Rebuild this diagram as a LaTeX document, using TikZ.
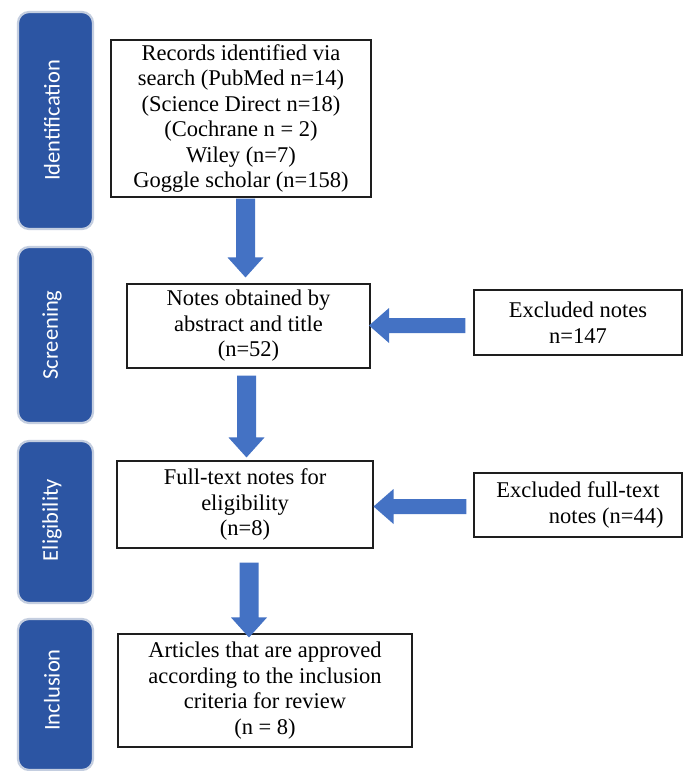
\documentclass[tikz,border=0pt]{standalone}
\usepackage{fontspec}
\setmainfont{Liberation Serif}
\newfontfamily\tabfont{Carlito}
\usetikzlibrary{calc}
\definecolor{tabblue}{RGB}{44,85,163}
\definecolor{tabedge}{RGB}{196,206,224}
\definecolor{arrowblue}{RGB}{68,114,196}
\definecolor{boxedge}{RGB}{30,30,30}
\tikzset{
  tabbox/.style={draw=tabedge, line width=2.2pt, fill=tabblue, rounded corners=11pt,
    minimum width=75pt, inner sep=0pt},
  tablabel/.style={rotate=90, text=white, font=\tabfont\fontsize{22.5}{26}\selectfont, inner sep=0pt},
  flowbox/.style={draw=boxedge, line width=1.1pt, fill=white, align=center, inner sep=0pt,
    font=\fontsize{22.5}{25.5}\selectfont},
}
\newcommand{\blockdown}[2]{%
  \fill[arrowblue] let \p1=#1, \p2=#2 in
    (\x1-9.5pt,\y1) -- (\x1+9.5pt,\y1) -- (\x1+9.5pt,\y2+20pt) -- (\x1+18pt,\y2+20pt)
    -- (\x1,\y2) -- (\x1-18pt,\y2+20pt) -- (\x1-9.5pt,\y2+20pt) -- cycle;}
\newcommand{\blockleft}[2]{%
  \fill[arrowblue] let \p1=#1, \p2=#2 in
    (\x1,\y1+7.5pt) -- (\x2+20pt,\y1+7.5pt) -- (\x2+20pt,\y1+17.5pt) -- (\x2,\y1)
    -- (\x2+20pt,\y1-17.5pt) -- (\x2+20pt,\y1-7.5pt) -- (\x1,\y1-7.5pt) -- cycle;}
\begin{document}
\begin{tikzpicture}
\useasboundingbox[fill=white] (0,0) rectangle (684pt,-771pt);
% side tabs
\node[tabbox, minimum height=217pt] (t1) at (55.5pt,-120.5pt) {};
\node[tabbox, minimum height=176pt] (t2) at (55.5pt,-335pt) {};
\node[tabbox, minimum height=162pt] (t3) at (55.5pt,-522pt) {};
\node[tabbox, minimum height=151pt] (t4) at (55.5pt,-694.5pt) {};
\node[tablabel] (l1) at (52pt,-120.5pt) {Identification};
\node[tablabel] (l2) at (52pt,-335pt) {Screening};
\node[tablabel] (l3) at (52pt,-520pt) {Eligibility};
\node[tablabel] (l4) at (52pt,-690pt) {Inclusion};
% boxes
\node[flowbox, minimum width=260pt, minimum height=157pt] (id) at (241pt,-118.5pt)
  {Records identified via\\search (PubMed n=14)\\(Science Direct n=18)\\(Cochrane n = 2)\\Wiley (n=7)\\Goggle scholar (n=158)};
\node[flowbox, minimum width=243pt, minimum height=84pt] (scr) at (248.5pt,-326pt)
  {Notes obtained by\\abstract and title\\(n=52)};
\node[flowbox, minimum width=256pt, minimum height=87pt] (elig) at (245pt,-504.5pt)
  {Full-text notes for\\eligibility\\(n=8)};
\node[flowbox, minimum width=294pt, minimum height=113pt] (art) at (265pt,-690.5pt)
  {Articles that are approved\\according to the inclusion\\criteria for review\\(n = 8)};
\node[flowbox, minimum width=208pt, minimum height=65pt] (exc1) at (578pt,-322.5pt)
  {Excluded notes\\n=147};
\node[flowbox, minimum width=208pt, minimum height=64pt, align=right] (exc2) at (578pt,-505pt)
  {Excluded full-text\\notes (n=44)\hspace*{-4pt}};
% arrows
\blockdown{($(id.south)+(4.5pt,-1pt)$)}{($(scr.north)+(0,6pt)$)}
\blockdown{($(scr.south)+(-2pt,-7pt)$)}{($(elig.north)+(0,3pt)$)}
\blockdown{($(elig.south)+(4pt,-14pt)$)}{($(art.north)+(0,-4pt)$)}
\blockleft{($(exc1.west)+(-8pt,-3pt)$)}{($(scr.east)+(-1.5pt,0)$)}
\blockleft{($(exc2.west)+(-7pt,-1.5pt)$)}{($(elig.east)+(0,0)$)}
\end{tikzpicture}
\end{document}
